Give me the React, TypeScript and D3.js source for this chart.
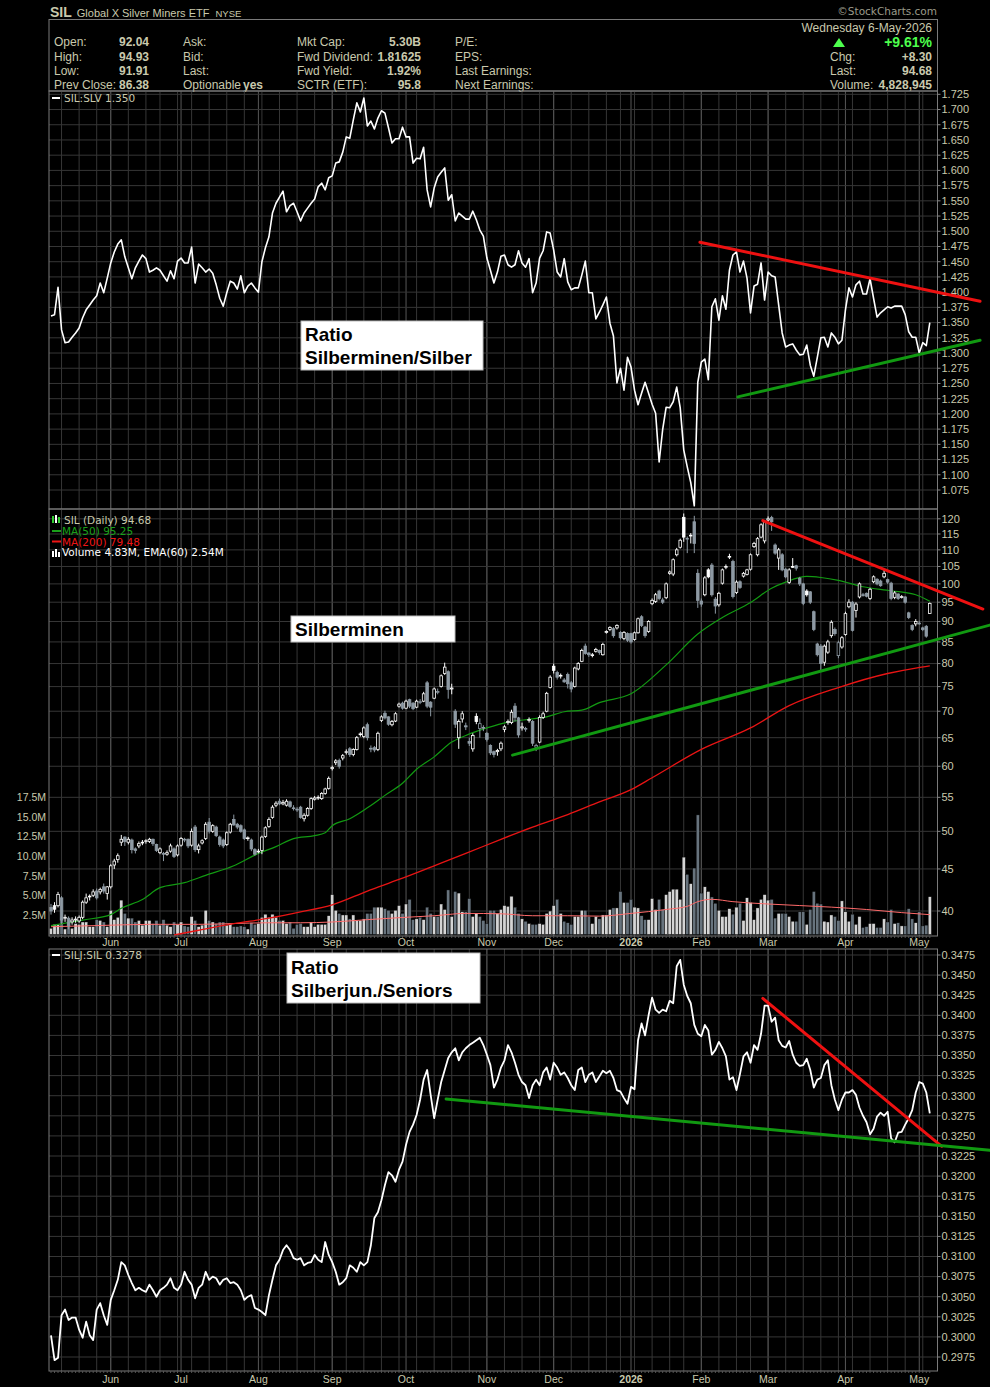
import * as d3 from 'd3';

// ---- data ----

// SIL:SLV ratio, daily closes 7-May-2025 .. 6-May-2026
const ratioSilSlv = [
  1.361, 1.363, 1.408, 1.338, 1.317, 1.318, 1.326, 1.333, 1.341, 1.358,
  1.371, 1.379, 1.387, 1.394, 1.415, 1.399, 1.423, 1.448, 1.466, 1.479,
  1.486, 1.458, 1.440, 1.422, 1.440, 1.451, 1.461, 1.455, 1.433, 1.436,
  1.440, 1.436, 1.427, 1.418, 1.435, 1.422, 1.451, 1.456, 1.448, 1.448,
  1.474, 1.415, 1.446, 1.440, 1.433, 1.438, 1.431, 1.412, 1.390, 1.377,
  1.399, 1.418, 1.415, 1.405, 1.427, 1.399, 1.410, 1.415, 1.407, 1.400,
  1.450, 1.473, 1.491, 1.530, 1.546, 1.556, 1.566, 1.532, 1.542, 1.546,
  1.532, 1.517, 1.530, 1.538, 1.546, 1.553, 1.573, 1.579, 1.568, 1.588,
  1.591, 1.612, 1.614, 1.630, 1.655, 1.653, 1.683, 1.711, 1.696, 1.719,
  1.673, 1.681, 1.668, 1.686, 1.698, 1.694, 1.670, 1.645, 1.652, 1.652,
  1.671, 1.655, 1.655, 1.612, 1.620, 1.619, 1.638, 1.568, 1.540, 1.571,
  1.589, 1.597, 1.604, 1.551, 1.560, 1.517, 1.530, 1.525, 1.520, 1.520,
  1.533, 1.519, 1.502, 1.492, 1.456, 1.436, 1.415, 1.433, 1.459, 1.461,
  1.445, 1.441, 1.445, 1.468, 1.448, 1.441, 1.455, 1.399, 1.415, 1.456,
  1.468, 1.499, 1.497, 1.469, 1.433, 1.425, 1.455, 1.417, 1.404, 1.407,
  1.407, 1.428, 1.451, 1.399, 1.399, 1.356, 1.367, 1.379, 1.392, 1.349,
  1.328, 1.251, 1.275, 1.239, 1.293, 1.277, 1.239, 1.215, 1.234, 1.252,
  1.234, 1.216, 1.201, 1.121, 1.174, 1.211, 1.210, 1.220, 1.244, 1.210,
  1.141, 1.113, 1.087, 1.049, 1.252, 1.285, 1.290, 1.256, 1.376, 1.389,
  1.354, 1.394, 1.372, 1.436, 1.461, 1.466, 1.433, 1.451, 1.423, 1.366,
  1.410, 1.413, 1.448, 1.387, 1.433, 1.427, 1.425, 1.379, 1.333, 1.310,
  1.313, 1.315, 1.305, 1.297, 1.298, 1.313, 1.280, 1.262, 1.293, 1.325,
  1.326, 1.310, 1.333, 1.326, 1.315, 1.321, 1.371, 1.407, 1.392, 1.412,
  1.418, 1.397, 1.397, 1.422, 1.390, 1.359, 1.366, 1.371, 1.376, 1.374,
  1.377, 1.377, 1.377, 1.363, 1.335, 1.326, 1.326, 1.300, 1.317, 1.312,
  1.350,
];

// SIL daily candles [open, high, low, close]
const silOhlc: [number, number, number, number][] = [
  [40.4, 40.8, 39.6, 40.0], [40.6, 41.0, 39.8, 40.2], [40.6, 42.2, 40.4, 41.9], [41.5, 41.7, 38.6, 39.0], [39.2, 39.6, 38.8, 39.3],
  [39.2, 39.4, 38.0, 38.4], [38.8, 39.3, 38.5, 39.0], [39.0, 39.4, 38.7, 39.1], [38.9, 39.5, 38.7, 39.3], [39.3, 41.2, 39.1, 41.0],
  [41.0, 42.0, 40.8, 41.5], [41.7, 41.9, 41.2, 41.7], [41.8, 42.5, 41.6, 42.2], [42.3, 42.6, 41.3, 41.5], [42.2, 42.7, 41.9, 42.5],
  [42.8, 43.2, 42.0, 42.3], [42.0, 42.9, 41.3, 42.8], [42.8, 45.6, 42.6, 45.4], [45.5, 46.3, 45.0, 46.0], [46.2, 47.0, 45.8, 46.7],
  [48.5, 49.5, 48.0, 48.9], [49.2, 49.3, 48.0, 48.6], [48.5, 49.2, 48.2, 48.9], [48.8, 49.0, 47.0, 47.5], [47.6, 47.8, 47.0, 47.4],
  [48.0, 48.6, 47.7, 48.3], [48.4, 48.8, 48.1, 48.5], [48.6, 48.9, 48.3, 48.7], [48.6, 49.1, 48.4, 48.9], [48.9, 49.0, 48.0, 48.3],
  [48.2, 48.3, 47.2, 47.4], [47.1, 47.8, 46.9, 47.6], [47.0, 47.2, 46.0, 46.9], [46.9, 47.4, 46.7, 47.1], [47.3, 48.3, 47.1, 48.0],
  [47.6, 47.8, 46.4, 46.6], [46.8, 48.2, 46.6, 48.0], [48.1, 49.2, 47.9, 49.0], [48.8, 49.1, 48.5, 48.9], [48.9, 49.0, 47.7, 48.0],
  [48.1, 50.4, 47.9, 50.0], [50.6, 50.9, 47.2, 47.5], [47.5, 48.3, 47.0, 48.0], [48.4, 48.9, 48.2, 48.7], [49.0, 51.3, 48.8, 51.0],
  [51.3, 51.9, 49.7, 50.0], [50.0, 51.0, 49.8, 50.8], [50.6, 50.8, 49.2, 49.4], [49.2, 49.4, 47.9, 48.2], [48.8, 49.0, 47.7, 48.0],
  [48.2, 50.0, 48.0, 49.8], [49.9, 51.2, 49.7, 51.0], [51.7, 52.4, 50.8, 50.9], [51.0, 51.2, 50.3, 50.6], [50.8, 51.0, 49.8, 50.0],
  [50.2, 50.4, 48.8, 49.0], [49.0, 49.3, 48.7, 49.1], [48.8, 49.0, 47.3, 47.6], [47.5, 47.7, 46.7, 46.9], [47.2, 47.6, 47.0, 47.3],
  [47.4, 49.4, 46.9, 49.2], [49.3, 50.7, 49.1, 50.5], [50.7, 52.0, 50.5, 51.7], [52.0, 53.8, 51.8, 53.5], [53.8, 54.4, 53.5, 54.1],
  [54.4, 54.8, 53.8, 54.0], [54.0, 54.6, 53.8, 54.2], [53.8, 54.7, 53.6, 54.4], [54.3, 54.5, 53.4, 53.6], [53.4, 53.8, 53.0, 53.3],
  [53.2, 53.5, 52.8, 53.2], [53.5, 53.7, 51.8, 52.0], [51.8, 52.6, 51.4, 52.3], [52.3, 53.5, 52.1, 53.3], [53.3, 55.0, 53.1, 54.8],
  [54.7, 55.2, 54.5, 54.9], [54.9, 55.3, 54.6, 55.0], [54.8, 55.8, 54.6, 55.6], [55.6, 56.5, 55.4, 56.3], [56.4, 58.3, 56.2, 58.0],
  [59.6, 60.1, 59.3, 59.8], [60.6, 61.2, 60.2, 60.9], [61.0, 61.3, 59.6, 60.0], [61.4, 62.1, 61.0, 61.8], [62.4, 62.9, 62.0, 62.5],
  [63.0, 63.3, 61.6, 62.0], [62.0, 63.1, 61.7, 62.9], [62.9, 65.3, 62.7, 65.0], [65.6, 66.0, 65.2, 65.7], [65.2, 67.1, 64.9, 66.8],
  [67.4, 67.8, 64.5, 65.0], [63.1, 63.6, 62.4, 63.0], [63.2, 63.5, 62.4, 62.8], [62.9, 66.1, 62.6, 65.8], [68.2, 69.2, 67.9, 68.9],
  [69.6, 70.1, 68.4, 68.7], [68.9, 69.0, 67.2, 67.5], [67.4, 68.3, 67.1, 68.0], [68.1, 69.8, 67.9, 69.5], [71.0, 71.7, 70.7, 71.4],
  [71.6, 71.9, 70.3, 70.6], [70.6, 72.3, 70.4, 72.0], [72.3, 72.5, 70.6, 71.0], [71.6, 71.8, 70.2, 70.5], [70.8, 72.3, 70.6, 72.0],
  [71.8, 72.4, 71.4, 71.9], [72.0, 73.9, 71.8, 73.5], [75.8, 76.2, 70.6, 71.0], [71.8, 72.0, 69.0, 70.8], [72.6, 74.8, 72.4, 74.5],
  [73.8, 74.6, 73.4, 74.0], [75.0, 77.6, 74.8, 77.3], [77.8, 80.2, 77.5, 79.2], [78.2, 78.5, 72.5, 74.4], [74.5, 75.6, 73.4, 74.7],
  [70.0, 70.4, 66.8, 67.5], [65.0, 68.4, 63.0, 68.0], [68.5, 70.0, 67.8, 69.5], [67.2, 67.8, 66.4, 67.0], [64.3, 65.0, 63.5, 64.0],
  [63.0, 65.8, 62.5, 65.4], [69.0, 69.6, 67.5, 68.0], [66.7, 68.6, 65.0, 67.6], [66.9, 67.3, 66.2, 66.8], [65.8, 66.0, 64.3, 64.7],
  [63.6, 63.8, 61.9, 62.3], [62.5, 62.7, 61.5, 62.0], [62.5, 63.0, 61.8, 62.7], [63.0, 64.3, 62.6, 64.0], [66.5, 67.3, 66.0, 67.0],
  [67.8, 68.4, 67.4, 68.0], [67.8, 70.3, 67.5, 69.8], [71.0, 71.6, 68.0, 68.8], [68.7, 68.9, 65.0, 65.5], [66.8, 67.8, 66.3, 67.0],
  [66.6, 67.0, 66.1, 66.7], [68.2, 68.8, 67.8, 68.4], [68.0, 68.3, 63.5, 64.0], [63.3, 63.9, 62.6, 63.6], [64.2, 69.2, 64.0, 68.8],
  [68.8, 69.9, 68.5, 69.5], [70.0, 73.9, 69.8, 73.6], [74.8, 77.4, 74.6, 77.0], [79.4, 80.0, 77.8, 78.5], [78.0, 78.4, 76.5, 77.0],
  [77.3, 77.8, 76.7, 77.4], [76.4, 76.8, 75.8, 76.0], [77.6, 78.0, 74.6, 75.6], [75.8, 76.2, 73.8, 74.5], [75.0, 79.3, 74.8, 79.0],
  [78.8, 80.3, 78.5, 80.0], [80.5, 83.4, 80.3, 83.0], [84.0, 84.6, 82.0, 82.3], [82.4, 82.6, 81.5, 82.0], [81.8, 82.4, 81.4, 82.0],
  [82.8, 83.6, 82.5, 83.2], [83.0, 83.2, 82.0, 82.5], [82.0, 84.8, 81.8, 84.4], [87.3, 87.8, 87.0, 87.5], [88.0, 88.8, 87.6, 88.5],
  [88.2, 88.6, 86.0, 86.5], [88.4, 89.3, 88.0, 89.0], [87.3, 87.6, 85.6, 86.0], [85.8, 87.6, 85.4, 87.3], [87.0, 87.3, 85.0, 85.4],
  [87.0, 87.2, 84.6, 85.0], [85.6, 87.5, 85.3, 87.2], [87.2, 91.0, 87.0, 90.7], [91.2, 91.6, 88.6, 89.0], [88.6, 88.9, 86.0, 86.5],
  [87.5, 90.3, 87.2, 90.0], [94.6, 96.0, 94.2, 95.5], [95.2, 97.5, 94.8, 97.0], [98.0, 98.4, 95.5, 96.0], [95.6, 96.2, 94.5, 95.0],
  [96.2, 100.4, 95.8, 100.0], [103.0, 103.8, 102.6, 103.4], [102.8, 107.4, 102.2, 107.0], [108.5, 110.6, 108.0, 110.0], [110.8, 113.5, 110.4, 113.0],
  [120.5, 121.8, 112.5, 114.0], [113.4, 114.2, 109.0, 113.6], [114.4, 115.3, 112.0, 114.6], [119.0, 121.0, 109.0, 112.0], [103.0, 104.2, 93.5, 95.5],
  [95.3, 96.0, 93.8, 94.5], [97.0, 102.2, 96.6, 101.7], [104.0, 104.5, 101.6, 102.0], [105.4, 106.0, 96.5, 97.0], [95.8, 96.4, 92.0, 94.0],
  [94.3, 97.8, 93.8, 97.4], [100.2, 104.4, 99.8, 104.0], [104.8, 105.6, 104.2, 105.0], [107.8, 108.8, 107.2, 108.0], [106.5, 107.0, 96.0, 96.5],
  [97.6, 101.0, 97.2, 100.5], [100.6, 101.0, 98.6, 99.0], [102.2, 103.4, 101.8, 103.0], [102.7, 104.3, 102.4, 104.0], [104.2, 108.9, 103.8, 108.5],
  [111.0, 112.5, 110.6, 112.0], [108.5, 114.0, 108.0, 113.5], [114.0, 118.5, 113.6, 118.0], [112.8, 119.4, 112.0, 119.0], [119.6, 120.8, 119.0, 120.0],
  [120.4, 121.0, 116.0, 119.0], [111.5, 112.0, 108.5, 109.0], [107.5, 110.6, 104.0, 110.0], [108.5, 109.0, 103.6, 104.0], [104.2, 104.6, 101.6, 102.0],
  [100.4, 104.5, 100.0, 104.0], [105.0, 107.5, 104.6, 105.0], [105.2, 105.5, 103.8, 104.5], [101.6, 102.0, 99.4, 100.0], [100.0, 100.3, 94.2, 94.7],
  [98.0, 98.5, 96.5, 97.0], [97.8, 98.0, 94.5, 95.0], [92.5, 92.8, 87.6, 88.0], [84.5, 84.8, 81.6, 82.0], [84.0, 84.5, 78.5, 80.0],
  [80.3, 84.4, 79.5, 84.0], [82.6, 85.5, 82.2, 85.0], [86.5, 90.3, 86.0, 89.8], [88.0, 88.5, 86.5, 87.0], [81.8, 85.3, 81.2, 84.8],
  [83.8, 86.4, 83.4, 86.0], [86.8, 92.5, 86.5, 92.0], [93.8, 95.8, 93.4, 95.0], [95.0, 95.3, 87.5, 87.8], [92.8, 95.0, 91.0, 94.5],
  [96.4, 100.4, 96.0, 100.0], [97.0, 97.5, 96.5, 97.0], [97.4, 97.6, 96.3, 96.6], [96.0, 98.9, 95.6, 98.5], [100.6, 102.4, 100.2, 102.0],
  [101.3, 101.6, 99.6, 100.0], [100.8, 101.2, 99.2, 99.5], [102.0, 104.0, 101.6, 103.0], [101.2, 101.5, 100.0, 100.5], [100.2, 100.6, 95.5, 96.0],
  [96.3, 98.0, 95.8, 97.5], [97.2, 97.4, 95.6, 96.0], [96.4, 96.9, 96.0, 96.5], [96.4, 96.6, 94.6, 95.0], [92.2, 92.5, 90.6, 91.0],
  [89.0, 89.3, 87.6, 88.0], [89.4, 90.6, 88.8, 90.0], [89.6, 90.2, 89.2, 89.5], [88.4, 88.7, 87.6, 88.0], [88.8, 89.1, 86.0, 86.38],
  [92.04, 94.93, 91.91, 94.68],
];

// SIL daily volume, millions of shares
const silVolume = [
  0.8, 1.3, 1.3, 2.2, 0.7, 1.6, 0.8, 1.4, 1.3, 1.6,
  1.6, 1.0, 1.0, 1.9, 1.8, 1.6, 1.0, 3.1, 1.9, 2.2,
  4.4, 2.7, 2.1, 2.1, 1.6, 1.8, 1.2, 1.8, 1.8, 1.4,
  1.8, 1.2, 1.9, 1.2, 1.0, 1.6, 1.3, 1.6, 1.1, 1.0,
  2.3, 1.8, 1.0, 1.2, 3.1, 1.8, 1.6, 1.4, 1.6, 1.6,
  1.2, 1.4, 1.0, 1.0, 1.1, 1.0, 0.7, 1.5, 1.3, 1.4,
  2.2, 2.6, 2.2, 2.6, 2.2, 1.8, 1.8, 1.4, 1.6, 0.8,
  1.3, 1.4, 1.0, 1.0, 1.6, 1.0, 1.3, 1.3, 1.3, 2.4,
  5.1, 3.1, 2.7, 2.5, 2.5, 2.0, 2.5, 1.8, 1.8, 2.0,
  2.7, 2.7, 3.5, 3.5, 3.5, 3.3, 3.1, 2.7, 3.1, 3.7,
  2.7, 3.9, 4.5, 1.9, 2.0, 2.2, 1.9, 3.5, 2.7, 2.3,
  2.3, 3.9, 3.2, 5.7, 2.3, 5.5, 5.3, 2.9, 2.9, 4.6,
  2.3, 2.7, 2.3, 1.8, 1.4, 3.1, 3.1, 2.7, 3.2, 3.7,
  3.6, 4.9, 3.5, 2.7, 2.0, 1.7, 1.4, 1.3, 1.3, 1.4,
  1.3, 2.7, 3.0, 3.7, 4.5, 2.7, 1.7, 1.5, 1.3, 2.3,
  2.3, 3.1, 3.1, 2.3, 1.4, 2.3, 2.0, 2.5, 2.5, 3.2,
  3.4, 3.4, 5.5, 4.1, 4.1, 4.5, 3.5, 3.4, 2.4, 1.9,
  1.9, 4.6, 3.2, 4.5, 3.2, 5.1, 5.5, 5.8, 5.8, 4.5,
  9.9, 7.7, 6.5, 8.5, 15.3, 5.3, 6.1, 5.5, 4.8, 4.0,
  3.1, 2.3, 2.3, 3.3, 2.6, 3.5, 4.0, 1.8, 4.7, 4.1,
  1.9, 3.4, 4.5, 5.1, 4.4, 4.5, 2.1, 2.7, 2.7, 2.7,
  2.3, 1.7, 1.7, 2.9, 2.9, 1.3, 3.2, 5.5, 4.0, 3.9,
  1.7, 1.6, 2.5, 2.3, 1.8, 4.3, 2.9, 1.7, 2.6, 1.3,
  2.3, 0.9, 1.0, 1.4, 1.4, 0.9, 0.9, 2.0, 1.6, 3.2,
  1.4, 1.5, 1.1, 1.1, 3.3, 2.0, 1.5, 2.9, 1.1, 1.2,
  4.83,
];

// overlays: [day index, value]
const ma50: [number, number][] = [
  [0, 38.4], [9, 39.0], [17, 39.6], [20, 40.3], [26, 41.3], [31, 42.7], [38, 43.3], [44, 44.2], [52, 45.4],
  [59, 47.0], [64, 47.9], [69, 49.0], [75, 49.4], [78, 49.8], [80, 50.8], [85, 51.8], [90, 53.4], [95, 55.3],
  [100, 57.2], [104, 59.5], [109, 61.6], [114, 64.2], [118, 65.4], [124, 66.8], [130, 67.9], [137, 68.5],
  [141, 68.9], [146, 69.9], [151, 70.2], [156, 71.7], [165, 73.5], [175, 79.7], [184, 86.9], [191, 91.0],
  [199, 94.9], [205, 98.8], [209, 100.5], [215, 102.1], [219, 101.8], [224, 101.0], [231, 99.2], [239, 98.1],
  [246, 97.0], [250, 95.25],
];
const ma200: [number, number][] = [
  [35, 37.4], [42, 37.9], [52, 38.6], [62, 39.2], [71, 39.9], [80, 40.7], [90, 42.3], [99, 43.7], [109, 45.4],
  [118, 47.0], [128, 48.9], [137, 50.6], [147, 52.4], [156, 54.3], [165, 56.2], [171, 58.1], [185, 62.9],
  [199, 66.8], [210, 71.1], [224, 74.8], [238, 77.8], [246, 79.0], [250, 79.48],
];
const volEma60: [number, number][] = [
  [0, 1.0], [14, 1.15], [28, 1.3], [42, 1.3], [52, 1.4], [61, 1.5], [71, 1.5], [80, 1.6], [90, 1.9], [99, 2.15],
  [109, 2.4], [118, 2.7], [128, 2.65], [137, 2.4], [147, 2.4], [156, 2.35], [165, 2.7], [175, 3.2], [181, 3.6],
  [184, 4.2], [188, 4.5], [194, 4.2], [204, 3.9], [213, 3.7], [222, 3.5], [232, 3.2], [242, 2.8], [250, 2.54],
];

// SILJ:SIL ratio
const ratioSiljSil = [
  0.3002, 0.2971, 0.2974, 0.3027, 0.3034, 0.3021, 0.3024, 0.3024, 0.3009, 0.2999,
  0.3019, 0.3002, 0.2996, 0.3034, 0.3042, 0.3027, 0.3015, 0.3046, 0.3058, 0.3071,
  0.3093, 0.3089, 0.3077, 0.3067, 0.3058, 0.3061, 0.3058, 0.3056, 0.3065, 0.3058,
  0.3050, 0.3058, 0.3061, 0.3065, 0.3073, 0.3061, 0.3058, 0.3065, 0.3081, 0.3071,
  0.3065, 0.3048, 0.3061, 0.3065, 0.3081, 0.3071, 0.3075, 0.3073, 0.3065, 0.3071,
  0.3073, 0.3067, 0.3068, 0.3065, 0.3058, 0.3046, 0.3050, 0.3052, 0.3036, 0.3034,
  0.3031, 0.3027, 0.3052, 0.3071, 0.3089, 0.3096, 0.3108, 0.3114, 0.3108, 0.3098,
  0.3096, 0.3098, 0.3089, 0.3092, 0.3093, 0.3102, 0.3096, 0.3093, 0.3118, 0.3102,
  0.3093, 0.3081, 0.3065, 0.3068, 0.3073, 0.3089, 0.3086, 0.3081, 0.3093, 0.3089,
  0.3093, 0.3114, 0.3148, 0.3155, 0.3170, 0.3189, 0.3205, 0.3201, 0.3193, 0.3208,
  0.3218, 0.3239, 0.3255, 0.3264, 0.3276, 0.3295, 0.3320, 0.3332, 0.3301, 0.3272,
  0.3295, 0.3317, 0.3332, 0.3347, 0.3354, 0.3359, 0.3344, 0.3354, 0.3359, 0.3363,
  0.3366, 0.3369, 0.3372, 0.3363, 0.3351, 0.3338, 0.3310, 0.3320, 0.3335, 0.3344,
  0.3363, 0.3354, 0.3341, 0.3326, 0.3317, 0.3313, 0.3297, 0.3313, 0.3320, 0.3313,
  0.3329, 0.3335, 0.3320, 0.3341, 0.3335, 0.3326, 0.3329, 0.3322, 0.3313, 0.3307,
  0.3332, 0.3335, 0.3317, 0.3326, 0.3329, 0.3317, 0.3324, 0.3331, 0.3328, 0.3331,
  0.3322, 0.3307, 0.3305, 0.3297, 0.3290, 0.3311, 0.3308, 0.3369, 0.3390, 0.3375,
  0.3400, 0.3422, 0.3407, 0.3403, 0.3407, 0.3405, 0.3418, 0.3415, 0.3461, 0.3469,
  0.3438, 0.3424, 0.3415, 0.3388, 0.3377, 0.3374, 0.3388, 0.3381, 0.3351, 0.3357,
  0.3367, 0.3359, 0.3349, 0.3320, 0.3323, 0.3307, 0.3327, 0.3349, 0.3354, 0.3341,
  0.3363, 0.3357, 0.3377, 0.3412, 0.3412, 0.3392, 0.3397, 0.3369, 0.3362, 0.3360,
  0.3368, 0.3351, 0.3341, 0.3337, 0.3338, 0.3346, 0.3332, 0.3310, 0.3320, 0.3322,
  0.3338, 0.3344, 0.3313, 0.3295, 0.3282, 0.3295, 0.3304, 0.3304, 0.3307, 0.3301,
  0.3285, 0.3275, 0.3267, 0.3252, 0.3259, 0.3274, 0.3279, 0.3275, 0.3280, 0.3247,
  0.3242, 0.3254, 0.3255, 0.3264, 0.3272, 0.3282, 0.3304, 0.3317, 0.3315, 0.3304,
  0.3278,
];

// hand-drawn trend lines: [[index, value], [index, value]]
const topResist: [number, number][] = [[184.6, 1.482], [264.3, 1.385]];
const topSupport: [number, number][] = [[195.4, 1.228], [264.3, 1.321]];
const midResist: [number, number][] = [[202.5, 119.4], [265.1, 93.2]];
const midSupport: [number, number][] = [[131.3, 61.9], [267.1, 89.1]];
const botResist: [number, number][] = [[202.5, 0.3421], [253.4, 0.3237]];
const botSupport: [number, number][] = [[112.4, 0.3296], [267.1, 0.3232]];

const priceTicks = [40, 45, 50, 55, 60, 65, 70, 75, 80, 85, 90, 95, 100, 105, 110, 115, 120];
const volTicks = [2.5, 5, 7.5, 10, 12.5, 15, 17.5];
const monthNames = ['Jan', 'Feb', 'Mar', 'Apr', 'May', 'Jun', 'Jul', 'Aug', 'Sep', 'Oct', 'Nov', 'Dec'];
const holidays = ['2025-05-26', '2025-06-19', '2025-07-04', '2025-09-01', '2025-11-27', '2025-12-25',
  '2026-01-01', '2026-01-19', '2026-02-16', '2026-04-03'];

// ---- layout ----
const W = 990;
const H = 1387;
const L = 49;
const R = 937.5;
const topP = { y0: 91, y1: 509 };
const midP = { y0: 509, y1: 936 };
const botP = { y0: 949, y1: 1371 };

const BEIGE = '#c9c9ad';
const GRID = '#363636';
const GRID_M = '#575757';
const FONT = '"Liberation Sans", Arial, sans-serif';
const SMALL = '"DejaVu Sans", Verdana, sans-serif';

function tradingDays() {
  const out: Date[] = [];
  const d = new Date('2025-05-07T00:00:00Z');
  const end = new Date('2026-05-06T00:00:00Z');
  while (d <= end) {
    const wd = d.getUTCDay();
    if (wd !== 0 && wd !== 6 && !holidays.includes(d.toISOString().slice(0, 10))) out.push(new Date(d));
    d.setUTCDate(d.getUTCDate() + 1);
  }
  return out;
}

export default function App() {
  const days = tradingDays();
  const n = ratioSilSlv.length;

  const x = d3.scaleLinear().domain([0, n - 1]).range([51, 929.8]);
  const yTop = d3.scaleLinear().domain([1.075, 1.725]).range([490, 94.3]);
  const yPx = d3.scaleLog().domain([40, 120]).range([911, 518.8]);
  const yVol = d3.scaleLinear().domain([0, 17.5]).range([934.5, 797.7]);
  const yBot = d3.scaleLinear().domain([0.2975, 0.3475]).range([1357, 955]);

  const topTicks = d3.range(0, 27).map((k) => 1.075 + k * 0.025);
  const botTicks = d3.range(0, 21).map((k) => 0.2975 + k * 0.0025);

  // week and month starts for the vertical grid
  const weekIdx: number[] = [];
  const monthIdx: number[] = [];
  days.forEach((d, i) => {
    if (i === 0) return;
    const p = days[i - 1];
    if (d.getUTCDay() <= p.getUTCDay()) weekIdx.push(i);
    if (d.getUTCMonth() !== p.getUTCMonth()) monthIdx.push(i);
  });

  const lineIdx = d3.line<number>().x((_, i) => x(i));
  const topLine = lineIdx.y((v) => yTop(v))(ratioSilSlv) ?? '';
  const botLine = d3.line<number>().x((_, i) => x(i)).y((v) => yBot(v))(ratioSiljSil) ?? '';
  const pairLine = (fy: (v: number) => number) =>
    d3.line<[number, number]>().x((p) => x(p[0])).y((p) => fy(p[1])).curve(d3.curveMonotoneX);

  const vGrid = (y0: number, y1: number) => (
    <g>
      {weekIdx.map((i) => (
        <line key={'w' + i} x1={x(i)} x2={x(i)} y1={y0} y2={y1} stroke={GRID} strokeWidth={1} />
      ))}
      {monthIdx.map((i) => (
        <line key={'m' + i} x1={x(i)} x2={x(i)} y1={y0} y2={y1} stroke={GRID_M} strokeWidth={1} />
      ))}
    </g>
  );

  const rightAxis = (ticks: number[], fy: (v: number) => number, fmt: (v: number) => string) =>
    ticks.map((t) => (
      <g key={t}>
        <line x1={R} x2={R + 3} y1={fy(t)} y2={fy(t)} stroke="#888" />
        <text x={R + 4} y={fy(t)} dy="0.35em" fontSize={11} fill={BEIGE} fontFamily={FONT}>
          {fmt(t)}
        </text>
      </g>
    ));

  const monthAxis = (yText: number) =>
    monthIdx.map((i) => {
      const m = days[i].getUTCMonth();
      const label = m === 0 ? String(days[i].getUTCFullYear()) : monthNames[m];
      return (
        <text key={i} x={x(i)} y={yText} textAnchor="middle" fontSize={10.5} fill={BEIGE}
          fontFamily={FONT} fontWeight={m === 0 ? 'bold' : 'normal'}>
          {label}
        </text>
      );
    });

  const dayTicks = (yy: number) =>
    days.map((_, i) => <line key={i} x1={x(i)} x2={x(i)} y1={yy} y2={yy + 2} stroke="#555" />);

  const hdr = (t: string, xx: number, yy: number, opt: { bold?: boolean; anchor?: string; fill?: string; size?: number } = {}) => (
    <text x={xx} y={yy} fontSize={opt.size ?? 12} fontFamily={FONT} fill={opt.fill ?? BEIGE}
      fontWeight={opt.bold ? 'bold' : 'normal'} textAnchor={opt.anchor ?? 'start'}>
      {t}
    </text>
  );

  const annot = (bx: number, by: number, bw: number, bh: number, lines: string[], base: number[]) => (
    <g>
      <rect x={bx} y={by} width={bw} height={bh} fill="#fff" stroke="#bbb" strokeWidth={1} />
      {lines.map((t, k) => (
        <text key={k} x={bx + 4} y={base[k]} fontSize={19} fontWeight="bold" fontFamily={FONT} fill="#000">
          {t}
        </text>
      ))}
    </g>
  );

  const trend = (pts: [number, number][], fy: (v: number) => number, col: string) => (
    <line x1={x(pts[0][0])} y1={fy(pts[0][1])} x2={x(pts[1][0])} y2={fy(pts[1][1])}
      stroke={col} strokeWidth={3} strokeLinecap="round" />
  );

  return (
    <svg width={W} height={H} style={{ position: 'absolute', left: 0, top: 0, background: '#000' }}>
      <defs>
        <clipPath id="clipTop"><rect x={L} y={topP.y0} width={R - L} height={topP.y1 - topP.y0} /></clipPath>
        <clipPath id="clipMid"><rect x={L} y={midP.y0} width={R - L} height={midP.y1 - midP.y0} /></clipPath>
        <clipPath id="clipBot"><rect x={L} y={botP.y0} width={R - L} height={botP.y1 - botP.y0} /></clipPath>
      </defs>
      <rect x={0} y={0} width={W} height={H} fill="#000" />

      {/* title and quote box */}
      <text x={50} y={16.5} fontFamily={FONT} fill={BEIGE}>
        <tspan fontSize={14} fontWeight="bold">SIL</tspan>
        <tspan fontSize={11} dx={5}>Global X Silver Miners ETF</tspan>
        <tspan fontSize={9.5} dx={6}>NYSE</tspan>
      </text>
      <text x={937} y={15} textAnchor="end" fontSize={10.5} fontFamily={SMALL} fill="#9a9a8a">©StockCharts.com</text>
      <rect x={L} y={19.5} width={R - L} height={topP.y0 - 19.5} fill="none" stroke="#7a7a7a" />
      {hdr('Open:', 54, 46)}{hdr('92.04', 149, 46, { bold: true, anchor: 'end' })}
      {hdr('High:', 54, 60.5)}{hdr('94.93', 149, 60.5, { bold: true, anchor: 'end' })}
      {hdr('Low:', 54, 75)}{hdr('91.91', 149, 75, { bold: true, anchor: 'end' })}
      {hdr('Prev Close:', 54, 89)}{hdr('86.38', 149, 89, { bold: true, anchor: 'end' })}
      {hdr('Ask:', 183, 46)}{hdr('Bid:', 183, 60.5)}{hdr('Last:', 183, 75)}{hdr('Optionable', 183, 89)}
      {hdr('yes', 263, 89, { bold: true, anchor: 'end' })}
      {hdr('Mkt Cap:', 297, 46)}{hdr('5.30B', 421, 46, { bold: true, anchor: 'end' })}
      {hdr('Fwd Dividend:', 297, 60.5)}{hdr('1.81625', 421, 60.5, { bold: true, anchor: 'end' })}
      {hdr('Fwd Yield:', 297, 75)}{hdr('1.92%', 421, 75, { bold: true, anchor: 'end' })}
      {hdr('SCTR (ETF):', 297, 89)}{hdr('95.8', 421, 89, { bold: true, anchor: 'end' })}
      {hdr('P/E:', 455, 46)}{hdr('EPS:', 455, 60.5)}{hdr('Last Earnings:', 455, 75)}{hdr('Next Earnings:', 455, 89)}
      {hdr('Wednesday  6-May-2026', 932, 32, { anchor: 'end' })}
      <path d="M833,47 L839,38 L845,47 Z" fill="#4dff4d" />
      {hdr('+9.61%', 932, 47, { bold: true, anchor: 'end', fill: '#4dff4d', size: 14 })}
      {hdr('Chg:', 830, 60.5)}{hdr('+8.30', 932, 60.5, { bold: true, anchor: 'end' })}
      {hdr('Last:', 830, 75)}{hdr('94.68', 932, 75, { bold: true, anchor: 'end' })}
      {hdr('Volume:', 830, 89)}{hdr('4,828,945', 932, 89, { bold: true, anchor: 'end' })}

      {/* ---------- top panel: SIL:SLV ---------- */}
      {vGrid(topP.y0, topP.y1)}
      {topTicks.map((t) => (
        <line key={t} x1={L} x2={R} y1={yTop(t)} y2={yTop(t)} stroke={GRID} />
      ))}
      <path d={topLine} fill="none" stroke="#fff" strokeWidth={1.6} clipPath="url(#clipTop)" strokeLinejoin="round" />
      <rect x={L} y={topP.y0} width={R - L} height={topP.y1 - topP.y0} fill="none" stroke="#7a7a7a" />
      {rightAxis(topTicks, yTop, (v) => v.toFixed(3))}
      {trend(topResist, yTop, '#ee1111')}
      {trend(topSupport, yTop, '#119911')}
      <line x1={52} x2={60} y1={98} y2={98} stroke="#fff" strokeWidth={2} />
      <text x={64} y={102} fontSize={10.5} fontFamily={SMALL} fill={BEIGE}>SIL:SLV 1.350</text>
      {annot(301, 321, 182, 49, ['Ratio', 'Silberminen/Silber'], [341, 364])}

      {/* ---------- middle panel: SIL candles ---------- */}
      {vGrid(midP.y0, midP.y1)}
      {priceTicks.map((t) => (
        <line key={t} x1={L} x2={R} y1={yPx(t)} y2={yPx(t)} stroke={GRID} />
      ))}
      <g clipPath="url(#clipMid)">
        {silVolume.map((v, i) => {
          const up = i === 0 || silOhlc[i][3] >= silOhlc[i - 1][3];
          return (
            <rect key={i} x={x(i) - 1.6} y={yVol(v)} width={3.2} height={yVol(0) - yVol(v)}
              fill={up ? '#d4d4d4' : '#67737d'} stroke="#000" strokeWidth={0.4} />
          );
        })}
        <path d={pairLine(yVol)(volEma60) ?? ''} fill="none" stroke="#ff6a6a" strokeWidth={1} />
        <path d={pairLine(yPx)(ma200) ?? ''} fill="none" stroke="#e81414" strokeWidth={1.3} />
        <path d={pairLine(yPx)(ma50) ?? ''} fill="none" stroke="#129a12" strokeWidth={1.2} />
        {silOhlc.map(([o, h, l, c], i) => {
          const prev = i > 0 ? silOhlc[i - 1][3] : o;
          const col = c >= prev ? '#ffffff' : '#8e9aa4';
          const cx = x(i);
          const yt = yPx(Math.max(o, c));
          const yb = yPx(Math.min(o, c));
          return (
            <g key={i}>
              <line x1={cx} x2={cx} y1={yPx(h)} y2={yPx(l)} stroke={col} strokeWidth={1} />
              <rect x={cx - 1.3} y={yt} width={2.6} height={Math.max(yb - yt, 0.8)}
                fill={c > o ? '#000' : col} stroke={col} strokeWidth={0.8} />
            </g>
          );
        })}
      </g>
      <rect x={L} y={midP.y0} width={R - L} height={midP.y1 - midP.y0} fill="none" stroke="#7a7a7a" />
      {rightAxis(priceTicks, yPx, (v) => String(v))}
      {volTicks.map((t) => (
        <text key={t} x={46} y={yVol(t)} dy="0.35em" textAnchor="end" fontSize={10.5} fontFamily={FONT} fill={BEIGE}>
          {t.toFixed(1) + 'M'}
        </text>
      ))}
      {trend(midResist, yPx, '#ee1111')}
      {trend(midSupport, yPx, '#119911')}
      {/* legend */}
      <rect x={52} y={516} width={2} height={7} fill="#2ecc2e" />
      <rect x={55} y={515} width={2} height={8} fill="#fff" />
      <rect x={58} y={517} width={2} height={6} fill="#2ecc2e" />
      <text x={64} y={524} fontSize={10.5} fontFamily={SMALL} fill={BEIGE}>SIL (Daily) 94.68</text>
      <line x1={52} x2={61} y1={531} y2={531} stroke="#1aa01a" strokeWidth={2} />
      <text x={62} y={535} fontSize={10.5} fontFamily={SMALL} fill="#1aa01a">MA(50) 95.25</text>
      <line x1={52} x2={61} y1={541.5} y2={541.5} stroke="#ee1515" strokeWidth={2} />
      <text x={62} y={545.5} fontSize={10.5} fontFamily={SMALL} fill="#ee1515">MA(200) 79.48</text>
      <rect x={52} y={551} width={2} height={6} fill="#fff" />
      <rect x={55} y={549} width={2} height={8} fill="#fff" />
      <rect x={58} y={552} width={2} height={5} fill="#fff" />
      <text x={62} y={556} fontSize={10.5} fontFamily={SMALL} fill="#fff">Volume 4.83M, EMA(60) 2.54M</text>
      {annot(291, 616, 164, 26, ['Silberminen'], [636])}
      {dayTicks(midP.y1)}
      {monthAxis(946)}

      {/* ---------- bottom panel: SILJ:SIL ---------- */}
      {vGrid(botP.y0, botP.y1)}
      {botTicks.map((t) => (
        <line key={t} x1={L} x2={R} y1={yBot(t)} y2={yBot(t)} stroke={GRID} />
      ))}
      <path d={botLine} fill="none" stroke="#fff" strokeWidth={1.8} clipPath="url(#clipBot)" strokeLinejoin="round" />
      <rect x={L} y={botP.y0} width={R - L} height={botP.y1 - botP.y0} fill="none" stroke="#7a7a7a" />
      {rightAxis(botTicks, yBot, (v) => v.toFixed(4))}
      {trend(botResist, yBot, '#ee1111')}
      {trend(botSupport, yBot, '#119911')}
      <line x1={52} x2={60} y1={955} y2={955} stroke="#fff" strokeWidth={2} />
      <text x={64} y={959} fontSize={10.5} fontFamily={SMALL} fill={BEIGE}>SILJ:SIL 0.3278</text>
      {annot(287, 953, 193, 50, ['Ratio', 'Silberjun./Seniors'], [974, 997])}
      {dayTicks(botP.y1)}
      {monthAxis(1383)}
    </svg>
  );
}
